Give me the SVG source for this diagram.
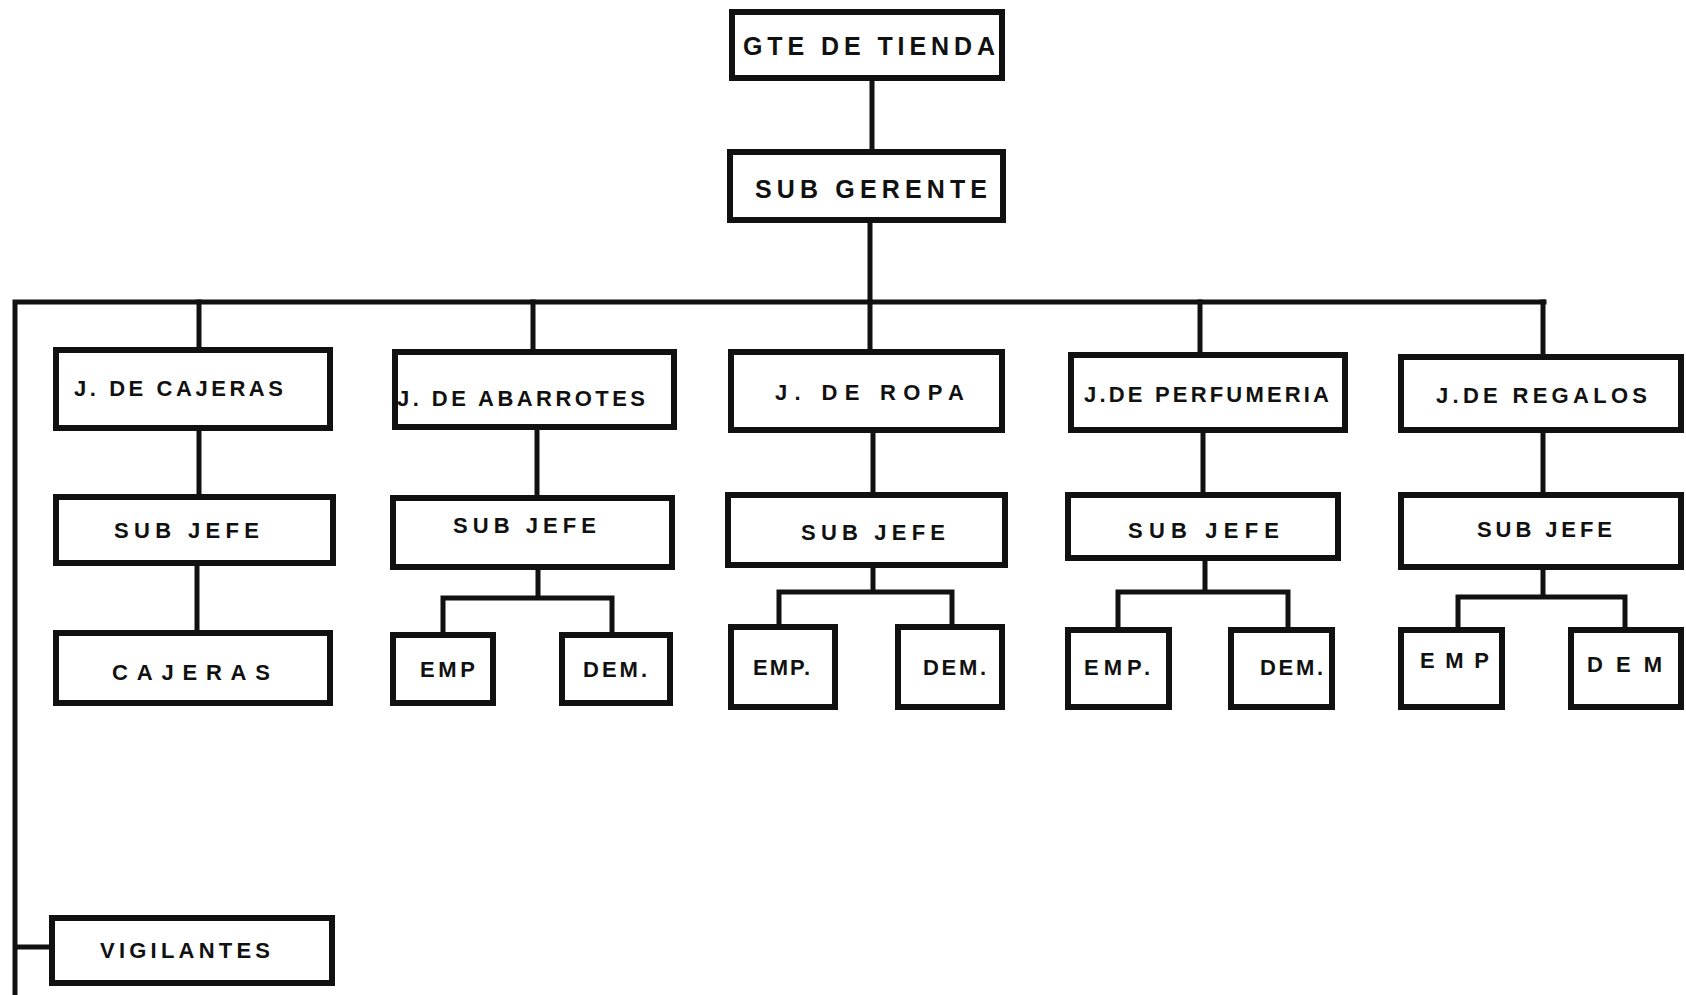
<svg xmlns="http://www.w3.org/2000/svg" width="1686" height="995" viewBox="0 0 1686 995">
<style>
.box{fill:#fff;stroke:#111;stroke-width:6;stroke-linejoin:miter}
.ln{stroke:#111;stroke-width:5;fill:none;stroke-linecap:square}
.t{font-family:"Liberation Sans",Arial,sans-serif;font-weight:bold;font-size:22px;fill:#111}
.big{font-size:25px}
</style>
<rect width="1686" height="995" fill="#fff"/>
<g id="connectors">
<path class="ln" d="M872 78V152M870 220V302M15 302H1544M15 302V995M15 947H52"/>
<path class="ln" d="M199 302V350M533 302V352M870 302V352M1200 302V355M1543 302V357"/>
<path class="ln" d="M199 428V497M537 427V498M873 430V495M1203 430V495M1543 430V495"/>
<path class="ln" d="M197 563V633"/>
<path class="ln" d="M538 567V598M443 598H612M443 598V635M612 598V635"/>
<path class="ln" d="M873 565V592M779 592H952M779 592V627M952 592V627"/>
<path class="ln" d="M1205 558V592M1118 592H1288M1118 592V630M1288 592V630"/>
<path class="ln" d="M1543 567V597M1458 597H1625M1458 597V630M1625 597V630"/>
</g>
<g id="gte"><rect class="box" x="732" y="12" width="270" height="66"/><text class="t big" x="743" y="55" textLength="252" lengthAdjust="spacing">GTE DE TIENDA</text></g>
<g id="subgerente"><rect class="box" x="730" y="152" width="273" height="68"/><text class="t big" x="755" y="198" textLength="232" lengthAdjust="spacing">SUB GERENTE</text></g>
<g id="jcajeras"><rect class="box" x="56" y="350" width="274" height="78"/><text class="t" x="74" y="396" textLength="209" lengthAdjust="spacing">J. DE CAJERAS</text></g>
<g id="jabarrotes"><rect class="box" x="395" y="352" width="279" height="75"/><text class="t" x="397" y="406" textLength="248" lengthAdjust="spacing">J. DE ABARROTES</text></g>
<g id="jropa"><rect class="box" x="731" y="352" width="271" height="78"/><text class="t" x="775" y="400" textLength="189" lengthAdjust="spacing">J. DE ROPA</text></g>
<g id="jperfumeria"><rect class="box" x="1071" y="355" width="274" height="75"/><text class="t" x="1084" y="402" textLength="245" lengthAdjust="spacing">J.DE PERFUMERIA</text></g>
<g id="jregalos"><rect class="box" x="1401" y="357" width="280" height="73"/><text class="t" x="1436" y="403" textLength="211" lengthAdjust="spacing">J.DE REGALOS</text></g>
<g id="subjefe1"><rect class="box" x="56" y="497" width="277" height="66"/><text class="t" x="114" y="538" textLength="145" lengthAdjust="spacing">SUB JEFE</text></g>
<g id="subjefe2"><rect class="box" x="393" y="498" width="279" height="69"/><text class="t" x="453" y="533" textLength="143" lengthAdjust="spacing">SUB JEFE</text></g>
<g id="subjefe3"><rect class="box" x="728" y="495" width="277" height="70"/><text class="t" x="801" y="540" textLength="144" lengthAdjust="spacing">SUB JEFE</text></g>
<g id="subjefe4"><rect class="box" x="1068" y="495" width="270" height="63"/><text class="t" x="1128" y="538" textLength="151" lengthAdjust="spacing">SUB JEFE</text></g>
<g id="subjefe5"><rect class="box" x="1401" y="495" width="280" height="72"/><text class="t" x="1477" y="537" textLength="135" lengthAdjust="spacing">SUB JEFE</text></g>
<g id="cajeras"><rect class="box" x="56" y="633" width="274" height="70"/><text class="t" x="112" y="680" textLength="158" lengthAdjust="spacing">CAJERAS</text></g>
<g id="emp1"><rect class="box" x="393" y="635" width="100" height="68"/><text class="t" x="420" y="677" textLength="55" lengthAdjust="spacing">EMP</text></g>
<g id="dem1"><rect class="box" x="562" y="635" width="108" height="68"/><text class="t" x="583" y="677" textLength="64" lengthAdjust="spacing">DEM.</text></g>
<g id="emp2"><rect class="box" x="731" y="627" width="104" height="80"/><text class="t" x="753" y="675" textLength="57" lengthAdjust="spacing">EMP.</text></g>
<g id="dem2"><rect class="box" x="898" y="627" width="104" height="80"/><text class="t" x="923" y="675" textLength="63" lengthAdjust="spacing">DEM.</text></g>
<g id="emp3"><rect class="box" x="1068" y="630" width="101" height="77"/><text class="t" x="1084" y="675" textLength="66" lengthAdjust="spacing">EMP.</text></g>
<g id="dem3"><rect class="box" x="1231" y="630" width="101" height="77"/><text class="t" x="1260" y="675" textLength="63" lengthAdjust="spacing">DEM.</text></g>
<g id="emp4"><rect class="box" x="1401" y="630" width="101" height="77"/><text class="t" x="1420" y="668" textLength="69" lengthAdjust="spacing">EMP</text></g>
<g id="dem4"><rect class="box" x="1571" y="630" width="110" height="77"/><text class="t" x="1587" y="672" textLength="75" lengthAdjust="spacing">DEM</text></g>
<g id="vigilantes"><rect class="box" x="52" y="918" width="280" height="65"/><text class="t" x="100" y="958" textLength="170" lengthAdjust="spacing">VIGILANTES</text></g>
</svg>
